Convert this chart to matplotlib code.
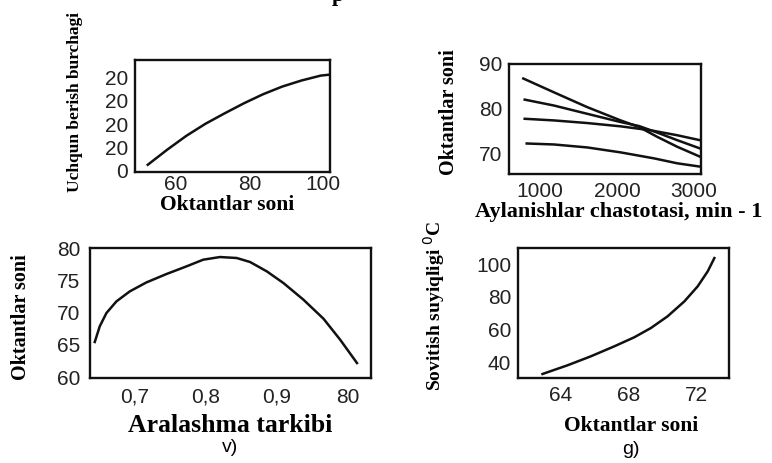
import matplotlib.pyplot as plt
import numpy as np

# a) spark angle vs octane number
a_x = [52.55, 57.74, 62.94, 68.13, 73.33, 78.52, 83.72, 88.91, 94.1, 99.3, 101.6]
a_y = [0.26, 0.90, 1.50, 2.02, 2.47, 2.90, 3.29, 3.62, 3.88, 4.09, 4.13]
a_xticks = [60, 80, 100]
a_yticks = [0, 1, 2, 3, 4]
a_ylabels = ['0', '20', '20', '20', '20']

# b) octane number vs rotation speed (four curves)
b_x1 = [783, 1182, 1615, 2048, 2286, 2524, 2783, 3078]
b_y1 = [86.74, 83.63, 80.3, 77.33, 75.85, 73.63, 71.41, 69.19]
b_x2 = [801, 1182, 1615, 2048, 2286, 2524, 2783, 3078]
b_y2 = [82.0, 80.67, 78.81, 76.96, 76.07, 74.59, 72.89, 71.04]
b_x3 = [801, 1182, 1615, 2048, 2438, 2783, 3078]
b_y3 = [77.7, 77.33, 76.74, 76.0, 75.11, 74.0, 72.89]
b_x4 = [827, 1182, 1615, 2048, 2481, 2783, 3078]
b_y4 = [72.15, 71.93, 71.26, 70.15, 68.81, 67.7, 66.96]
b_xticks = [1000, 2000, 3000]
b_yticks = [70, 80, 90]

# v) octane number vs mixture composition
v_x = [0.6437, 0.6507, 0.6601, 0.6742, 0.693, 0.7164, 0.7446, 0.7728, 0.7962,
       0.8197, 0.8432, 0.862, 0.8855, 0.9089, 0.937, 0.9652, 0.9887, 1.0123]
v_y = [65.43, 67.86, 69.92, 71.73, 73.28, 74.67, 75.97, 77.16, 78.19,
       78.6, 78.45, 77.83, 76.38, 74.57, 71.99, 69.04, 65.78, 62.17]
v_xticks = [0.7, 0.8, 0.9, 1.0]
v_xlabels = ['0,7', '0,8', '0,9', '80']
v_yticks = [60, 65, 70, 75, 80]

# g) coolant temperature vs octane number
g_x = [62.94, 64.41, 65.78, 67.16, 68.33, 69.31, 70.29, 71.28, 72.06, 72.65, 73.04]
g_y = [33.33, 38.6, 44.04, 50.1, 55.56, 61.2, 68.28, 77.37, 86.46, 95.56, 103.6]
g_xticks = [64, 68, 72]
g_yticks = [40, 60, 80, 100]

W, H = 772, 463
SERIF = 'Liberation Serif'
SANS = 'Liberation Sans'
INK = '#111111'


def ax_at(fig, left, top, right, bottom):
    return fig.add_axes([left / W, 1 - bottom / H, (right - left) / W, (bottom - top) / H])


def txt(fig, x, y, s, **kw):
    fig.text(x / W, 1 - y / H, s, ha='center', va='center', **kw)


def style(ax, xpad, ypad):
    for sp in ax.spines.values():
        sp.set_linewidth(1.7)
        sp.set_color(INK)
    ax.tick_params(length=0, labelsize=15, colors='#222222')
    ax.tick_params(axis='x', pad=xpad)
    ax.tick_params(axis='y', pad=ypad)
    for lab in ax.get_xticklabels() + ax.get_yticklabels():
        lab.set_fontfamily(SANS)


fig = plt.figure(figsize=(W / 100, H / 100), dpi=100)

# panel a
ax = ax_at(fig, 135, 60, 330, 172)
ax.plot(a_x, a_y, color=INK, lw=1.8)
ax.set_xlim(49.1, 101.8)
ax.set_ylim(-0.05, 4.76)
ax.set_xticks(a_xticks)
ax.set_yticks(a_yticks)
ax.set_yticklabels(a_ylabels)
style(ax, 2, 5)
txt(fig, 227, 205, 'Oktantlar soni', family=SERIF, weight='bold', size=15.5)
txt(fig, 75, 102, 'Uchqun berish burchagi', family=SERIF, weight='bold', size=12.5, rotation=90)

# panel b
ax = ax_at(fig, 509, 64, 701, 174)
for bx, by in [(b_x1, b_y1), (b_x2, b_y2), (b_x3, b_y3), (b_x4, b_y4)]:
    ax.plot(bx, by, color=INK, lw=1.8)
ax.set_xlim(597, 3091)
ax.set_ylim(65.3, 89.8)
ax.set_xticks(b_xticks)
ax.set_yticks(b_yticks)
style(ax, 6, 5)
txt(fig, 619, 212, 'Aylanishlar chastotasi, min - 1', family=SERIF, weight='bold', size=16)
txt(fig, 449, 112, 'Oktantlar soni', family=SERIF, weight='bold', size=14.5, rotation=90)

# panel v
ax = ax_at(fig, 90, 248, 371, 378)
ax.plot(v_x, v_y, color=INK, lw=1.8)
ax.set_xlim(0.637, 1.032)
ax.set_ylim(59.85, 80.0)
ax.set_xticks(v_xticks)
ax.set_xticklabels(v_xlabels)
ax.set_yticks(v_yticks)
style(ax, 7, 7)
txt(fig, 230, 426, 'Aralashma tarkibi', family=SERIF, weight='bold', size=18.5)
txt(fig, 21, 317, 'Oktantlar soni', family=SERIF, weight='bold', size=14.5, rotation=90)
txt(fig, 230, 448, 'v)', family=SANS, size=14)

# panel g
ax = ax_at(fig, 518, 248, 729, 378)
ax.plot(g_x, g_y, color=INK, lw=1.8)
ax.set_xlim(61.5, 73.9)
ax.set_ylim(30.9, 109.7)
ax.set_xticks(g_xticks)
ax.set_yticks(g_yticks)
style(ax, 6, 5)
txt(fig, 631, 426, 'Oktantlar soni', family=SERIF, weight='bold', size=15.5)
txt(fig, 434, 306, 'Sovitish suyiqligi $^0$C', family=SERIF, weight='bold', size=14, rotation=90)
txt(fig, 631, 449, 'g)', family=SANS, size=14)

# clipped letter at top edge
txt(fig, 338, -4, 'p', family=SERIF, weight='bold', size=16)

fig.savefig('out.png', dpi=100)
